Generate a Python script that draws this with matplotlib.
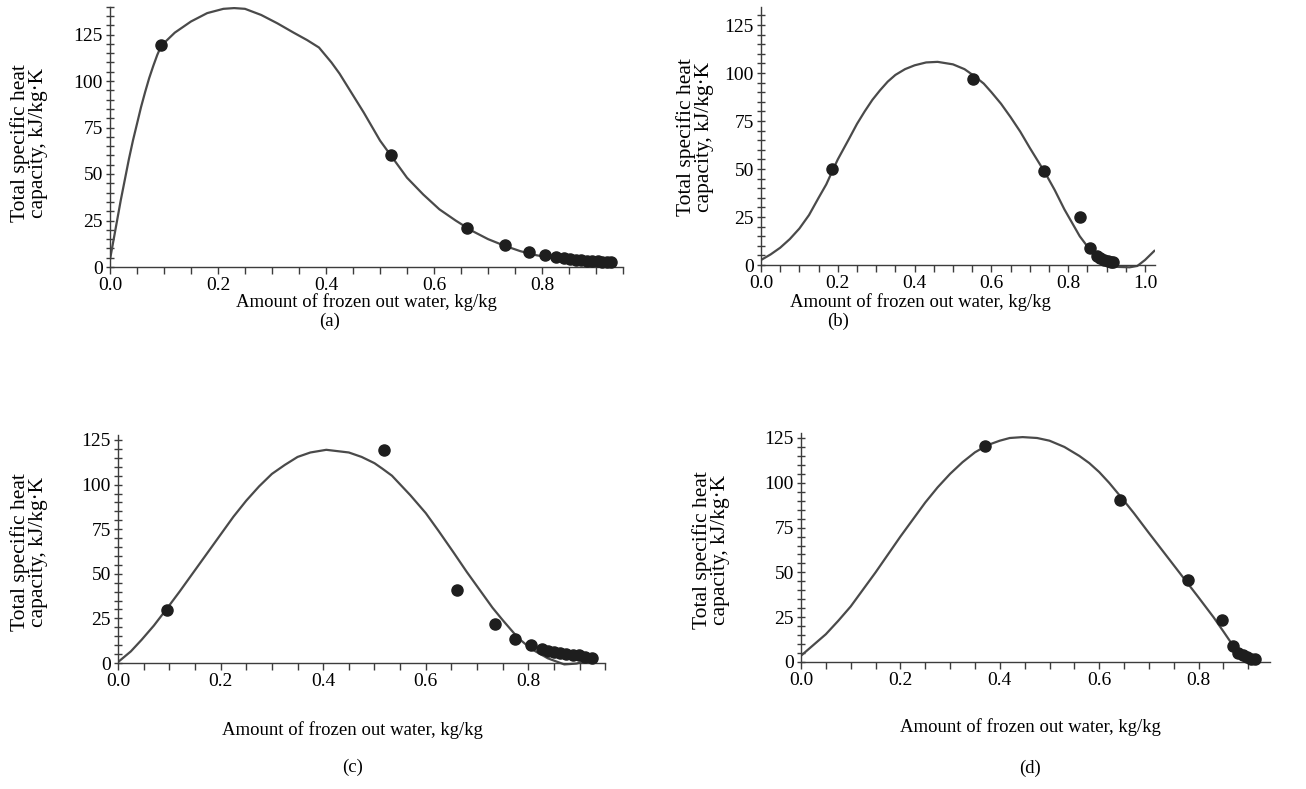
import numpy as np
import matplotlib
matplotlib.use('Agg')
import matplotlib.pyplot as plt
from matplotlib.ticker import MultipleLocator, FormatStrFormatter

plt.rcParams['font.family'] = ['Liberation Serif', 'DejaVu Serif']

# ---- data ----
# (a)
a_curve_x = [0.0, 0.01, 0.02, 0.035, 0.0425, 0.05, 0.0575, 0.065, 0.0725, 0.08, 0.0875, 0.095,
             0.12, 0.15, 0.18, 0.21, 0.23, 0.25, 0.28, 0.31, 0.34, 0.365, 0.387, 0.41, 0.425,
             0.44, 0.455, 0.47, 0.485, 0.5, 0.52, 0.535, 0.55, 0.565, 0.58, 0.595, 0.61, 0.625,
             0.64, 0.67, 0.7, 0.73, 0.76, 0.79, 0.82, 0.85, 0.88, 0.91, 0.935]
a_curve_y = [4, 20, 36, 58, 68, 77, 86, 94, 101.5, 108, 114, 119,
             126, 132, 136.5, 138.8, 139.2, 138.8, 135.5, 131, 126, 122, 118, 110, 104,
             97, 90, 83, 75.5, 68, 60, 54, 48, 43.5, 39, 35, 31, 28,
             25, 19.5, 15, 11.5, 8.5, 6.3, 4.8, 3.6, 2.5, 1.4, 0.3]
a_pts_x = [0.095, 0.52, 0.661, 0.731, 0.776, 0.805, 0.825, 0.84, 0.852, 0.863, 0.873, 0.883,
           0.893, 0.903, 0.912, 0.92, 0.927]
a_pts_y = [119.5, 60, 21, 12, 8, 6.2, 5.2, 4.6, 4.2, 3.9, 3.6, 3.4, 3.2, 3.0, 2.9, 2.8, 2.6]

# (b)
b_curve_x = [0.0, 0.025, 0.05, 0.075, 0.1, 0.125, 0.15, 0.17, 0.186, 0.2, 0.23, 0.25, 0.27,
             0.29, 0.31, 0.33, 0.35, 0.375, 0.4, 0.43, 0.46, 0.5, 0.53, 0.555, 0.58, 0.6,
             0.625, 0.65, 0.675, 0.7, 0.72, 0.74, 0.765, 0.79, 0.81, 0.83, 0.845, 0.86, 0.88,
             0.9, 0.93, 0.96, 0.98, 1.0, 1.025]
b_curve_y = [2.6, 5.5, 9, 13.5, 19, 26, 35, 42, 49, 55, 66, 73.5, 80,
             86, 91, 95.5, 99, 102, 104, 105.5, 105.8, 104.5, 102, 98.5, 94.5, 90,
             84, 77, 69.5, 61, 54.5, 48, 39, 29, 22, 15, 11, 7, 2.5,
             0, -1, -1.2, -0.5, 2.6, 7.5]
b_pts_x = [0.186, 0.553, 0.738, 0.83, 0.858, 0.874, 0.882, 0.893, 0.903, 0.911, 0.917]
b_pts_y = [49.8, 97, 49, 24.8, 9, 4.9, 3.5, 2.6, 2.0, 1.7, 1.7]

# (c)
c_curve_x = [0.0, 0.025, 0.046, 0.07, 0.094, 0.12, 0.15, 0.175, 0.2, 0.225, 0.25, 0.275, 0.3,
             0.325, 0.35, 0.375, 0.406, 0.45, 0.475, 0.5, 0.515, 0.534, 0.57, 0.6, 0.625,
             0.654, 0.68, 0.71, 0.73, 0.75, 0.78, 0.806, 0.838, 0.87, 0.894, 0.91, 0.926]
c_curve_y = [0.5, 6.5, 13, 21, 30, 40, 52, 62, 72, 82, 91, 99, 106,
             111, 115.5, 118, 119.5, 118, 115.5, 112, 109, 105, 94, 84, 74,
             62, 51, 39, 31, 24, 14, 7.8, 2.6, -0.8, -0.3, 1, 2.6]
c_pts_x = [0.095, 0.519, 0.66, 0.734, 0.774, 0.806, 0.826, 0.838, 0.85, 0.862, 0.874, 0.886,
           0.898, 0.91, 0.924]
c_pts_y = [29.9, 119.6, 41, 21.7, 13.5, 9.9, 7.8, 6.8, 6.0, 5.6, 5.0, 4.7, 4.3, 3.6, 2.6]

# (d)
d_curve_x = [0.0, 0.025, 0.05, 0.075, 0.1, 0.125, 0.15, 0.175, 0.2, 0.225, 0.25, 0.275, 0.3,
             0.325, 0.35, 0.375, 0.4, 0.42, 0.446, 0.475, 0.5, 0.53, 0.56, 0.58, 0.6, 0.62,
             0.644, 0.67, 0.7, 0.725, 0.75, 0.775, 0.8, 0.83, 0.85, 0.866, 0.89, 0.911]
d_curve_y = [3.5, 9.5, 15.5, 23, 31, 40.5, 50, 60, 70, 79.5, 89, 97.5, 105,
             111.5, 117, 121, 123.5, 125, 125.5, 125, 123.5, 120, 115, 111, 106, 100,
             92, 83, 72, 63, 54, 45, 36, 25, 17, 10.5, 3.5, 0.3]
d_pts_x = [0.37, 0.642, 0.778, 0.848, 0.87, 0.88, 0.889, 0.897, 0.905, 0.913]
d_pts_y = [120.7, 90.3, 45.7, 23.4, 9, 5.2, 3.8, 2.6, 1.7, 1.4]

panel_letters = ['(a)', '(b)', '(c)', '(d)']
xtick_vals = [[0.0, 0.2, 0.4, 0.6, 0.8], [0.0, 0.2, 0.4, 0.6, 0.8, 1.0],
              [0.0, 0.2, 0.4, 0.6, 0.8], [0.0, 0.2, 0.4, 0.6, 0.8]]
ytick_vals = [0, 25, 50, 75, 100, 125]
xlabel = 'Amount of frozen out water, kg/kg'
ylabel = 'Total specific heat\ncapacity, kJ/kg\u00b7K'

W, H = 1306, 789
fig = plt.figure(figsize=(W / 100, H / 100), dpi=100)
fig.patch.set_facecolor('white')

# layout in pixels: left spine x, px per x unit, xmax, zero line y, px per y unit, ymax
layouts = [
    (110, 540, 0.95, 267, 1.86, 140.0),
    (761, 384, 1.025, 265, 1.92, 134.4),
    (118, 513, 0.95, 663, 1.784, 127.6),
    (801, 497, 0.944, 662, 1.792, 127.6),
]
ymin = -2.0
# where text sits (pixels)
xlabel_pos = [(366, 302), (920, 302), (352, 730), (1030, 727)]
ylabel_pos = [(29, 143), (695, 137), (29, 552), (711, 550)]
letter_pos = [(330, 321), (838, 321), (353, 767), (1030, 768)]

series = [
    (a_curve_x, a_curve_y, a_pts_x, a_pts_y),
    (b_curve_x, b_curve_y, b_pts_x, b_pts_y),
    (c_curve_x, c_curve_y, c_pts_x, c_pts_y),
    (d_curve_x, d_curve_y, d_pts_x, d_pts_y),
]

axis_col = '#3c3c3c'
line_col = '#4a4a4a'

for i, (lx, sx, xmax, y0, sy, ymax) in enumerate(layouts):
    left = lx
    right = lx + sx * xmax
    top = y0 - sy * ymax
    bottom = y0 - sy * ymin
    ax = fig.add_axes([left / W, 1 - bottom / H, (right - left) / W, (bottom - top) / H])
    cx, cy, px, py = series[i]
    ax.plot(cx, cy, color=line_col, lw=1.6, solid_capstyle='round', zorder=2)
    ax.plot(px, py, 'o', color='#1e1e1e', ms=8, mec='#1e1e1e', zorder=3)

    ax.set_xlim(0, xmax)
    ax.set_ylim(ymin, ymax)
    ax.spines['top'].set_visible(False)
    ax.spines['right'].set_visible(False)
    ax.spines['bottom'].set_position(('data', 0))
    for s in ('left', 'bottom'):
        ax.spines[s].set_color(axis_col)
        ax.spines[s].set_linewidth(1.0)
    ax.spines['left'].set_bounds(0, ymax)

    ax.set_xticks(xtick_vals[i])
    ax.xaxis.set_major_formatter(FormatStrFormatter('%.1f'))
    ax.xaxis.set_minor_locator(MultipleLocator(0.05))
    ax.set_yticks(ytick_vals)
    ax.yaxis.set_minor_locator(MultipleLocator(5))
    ax.tick_params(axis='x', which='both', direction='out', length=5, width=1,
                   color=axis_col, labelsize=14, pad=2)
    ax.tick_params(axis='y', which='both', direction='inout', length=6, width=1,
                   color=axis_col, labelsize=14, pad=2)
    ax.patch.set_alpha(0)

    fig.text(xlabel_pos[i][0] / W, 1 - xlabel_pos[i][1] / H, xlabel, fontsize=13.5,
             ha='center', va='center')
    fig.text(ylabel_pos[i][0] / W, 1 - ylabel_pos[i][1] / H, ylabel, fontsize=15.5,
             ha='center', va='center', rotation=90, multialignment='center',
             linespacing=0.95)
    fig.text(letter_pos[i][0] / W, 1 - letter_pos[i][1] / H, panel_letters[i], fontsize=13.5,
             ha='center', va='center')

fig.savefig('out.png', dpi=100)
